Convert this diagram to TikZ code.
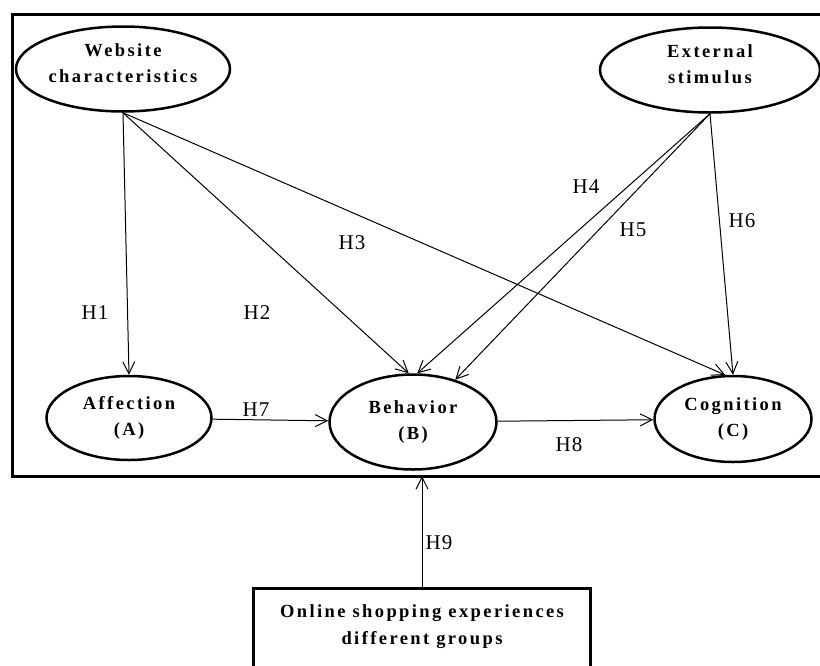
\documentclass[tikz,border=0pt]{standalone}
\usepackage{fontspec}
\setmainfont{Liberation Serif}
\newfontfamily\ovalfont[LetterSpace=13]{Liberation Serif}
\newfontfamily\hypfont[LetterSpace=5]{Liberation Serif}
\usetikzlibrary{shapes.geometric,arrows.meta}

\begin{document}
\begin{tikzpicture}[x=1pt,y=-1pt,
    >={Straight Barb[length=12pt,width=12pt]},
    oval/.style={ellipse,draw,line width=2.5pt,inner sep=0pt,align=center,
        font=\ovalfont\bfseries\fontsize{18.5}{26}\selectfont},
    hyp/.style={font=\hypfont\fontsize{21}{24}\selectfont},
    link/.style={->,line width=1pt}]
    \useasboundingbox (0,0) rectangle (820,665);
    \draw[line width=3pt] (12,14) rectangle (840,476);
    \coordinate (frm) at (422,476);
    \node[oval,minimum width=214,minimum height=85,text depth=11pt] (web) at (123,69) {Website\\characteristics};
    \node[oval,minimum width=220,minimum height=85,text depth=11pt] (ext) at (710,70) {External\\stimulus};
    \node[oval,minimum width=165,minimum height=84] (aff) at (129,418) {Affection\\(A)};
    \node[oval,minimum width=167,minimum height=95] (beh) at (413,422) {Behavior\\(B)};
    \node[oval,minimum width=157,minimum height=86] (cog) at (733,419) {Cognition\\(C)};
    \node[draw,line width=3pt,outer sep=0pt,minimum width=337,minimum height=120,anchor=north] (grp) at (422,588) {};
    \node[align=center,font=\ovalfont\bfseries\fontsize{18.5}{27}\selectfont] (grptext) at (422,627)
        {Online shopping experiences\\different groups};
    \draw[link] (web.south) -- (aff.north);
    \draw[link] (web.south) -- (beh.95);
    \draw[link] (web.south) -- (cog.100);
    \draw[link] (ext.south) -- (beh.85);
    \draw[link] (ext.south) -- (beh.45);
    \draw[link] (ext.south) -- (cog.north);
    \draw[link] (aff) -- (beh);
    \draw[link] (beh) -- (cog);
    \draw[link] (grp.north) -- (frm);
    \node[hyp] (h1) at (95,313) {H1};
    \node[hyp] (h2) at (257,313) {H2};
    \node[hyp] (h3) at (352,243) {H3};
    \node[hyp] (h4) at (586,187) {H4};
    \node[hyp] (h5) at (633,230) {H5};
    \node[hyp] (h6) at (742,221) {H6};
    \node[hyp] (h7) at (256,410) {H7};
    \node[hyp] (h8) at (569,445) {H8};
    \node[hyp] (h9) at (439,543) {H9};
\end{tikzpicture}
\end{document}
